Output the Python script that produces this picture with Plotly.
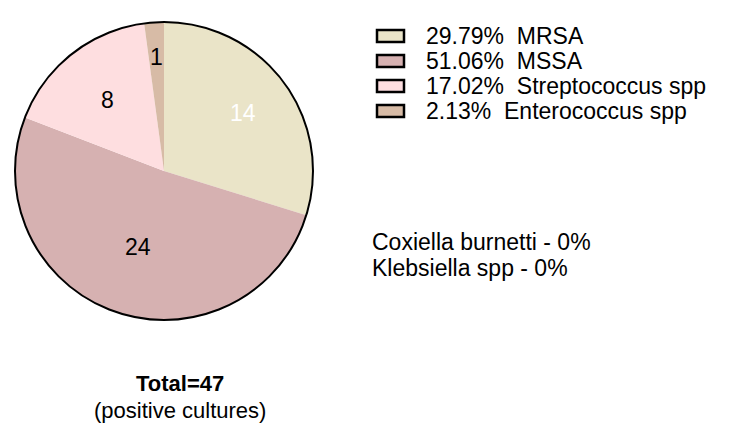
import math
import plotly.graph_objects as go

W, H = 750, 444

categories = ["MRSA", "MSSA", "Streptococcus spp", "Enterococcus spp"]
counts = [14, 24, 8, 1]
colors = ["#EAE4C8", "#D6B1B1", "#FEDEE0", "#D7BBA6"]
text_colors = ["white", "black", "black", "black"]
label_radius = [0.66, 0.54, 0.61, 0.77]   # label distance from centre (fraction of radius)
zero_species = ["Coxiella burnetti - 0%", "Klebsiella spp - 0%"]

total = sum(counts)
legend_labels = [f"{c / total * 100:.2f}%&nbsp;&nbsp;{n}" for n, c in zip(categories, counts)]

FONT = "Liberation Sans, Arial"
FS = 23

# pie geometry (pixels)
cx, cy, r = 164, 171, 149
dom_x = [(cx - r) / W, (cx + r) / W]
dom_y = [1 - (cy + r) / H, 1 - (cy - r) / H]

fig = go.Figure()
fig.add_trace(go.Pie(
    labels=categories,
    values=counts,
    sort=False,
    direction="clockwise",
    rotation=0,
    marker=dict(colors=colors, line=dict(width=0)),
    textinfo="none",
    domain=dict(x=dom_x, y=dom_y),
    showlegend=False,
))
# outer outline
fig.add_trace(go.Pie(
    labels=["outline"],
    values=[1],
    marker=dict(colors=["rgba(0,0,0,0)"], line=dict(color="black", width=2)),
    textinfo="none",
    hoverinfo="skip",
    showlegend=False,
    domain=dict(x=dom_x, y=dom_y),
))

# slice value labels, placed at each slice's mid-angle
cum = 0
for c, tc, rf in zip(counts, text_colors, label_radius):
    a = 2 * math.pi * (cum + c / 2) / total
    cum += c
    px = cx + rf * r * math.sin(a)
    py = cy - rf * r * math.cos(a)
    fig.add_annotation(x=px / W, y=1 - py / H, xref="paper", yref="paper",
                       text=str(c), showarrow=False, xanchor="center", yanchor="middle",
                       font=dict(size=FS, color=tc, family=FONT))

# legend (swatches + labels)
row0, row_gap = 36, 25
for i, (lab, col) in enumerate(zip(legend_labels, colors)):
    yc = row0 + i * row_gap
    fig.add_shape(type="rect", xref="paper", yref="paper",
                  x0=377 / W, x1=404 / W, y0=1 - (yc - 6) / H, y1=1 - (yc + 6) / H,
                  fillcolor=col, line=dict(color="black", width=2.5))
    fig.add_annotation(x=424 / W, y=1 - yc / H, xref="paper", yref="paper",
                       text=lab, showarrow=False, xanchor="left", yanchor="middle",
                       font=dict(size=FS, color="black", family=FONT))

for i, s in enumerate(zero_species):
    fig.add_annotation(x=370 / W, y=1 - (242 + 26 * i) / H, xref="paper", yref="paper",
                       text=s, showarrow=False, xanchor="left", yanchor="middle",
                       font=dict(size=FS, color="black", family=FONT))

fig.add_annotation(x=180 / W, y=1 - 383 / H, xref="paper", yref="paper",
                   text=f"<b>Total={total}</b>", showarrow=False,
                   xanchor="center", yanchor="middle",
                   font=dict(size=22, color="black", family=FONT))
fig.add_annotation(x=180 / W, y=1 - 410 / H, xref="paper", yref="paper",
                   text="(positive cultures)", showarrow=False,
                   xanchor="center", yanchor="middle",
                   font=dict(size=22, color="black", family=FONT))

fig.update_layout(
    width=W, height=H,
    margin=dict(l=0, r=0, t=0, b=0),
    paper_bgcolor="white",
    plot_bgcolor="white",
    showlegend=False,
)
fig.write_html("out.html")
